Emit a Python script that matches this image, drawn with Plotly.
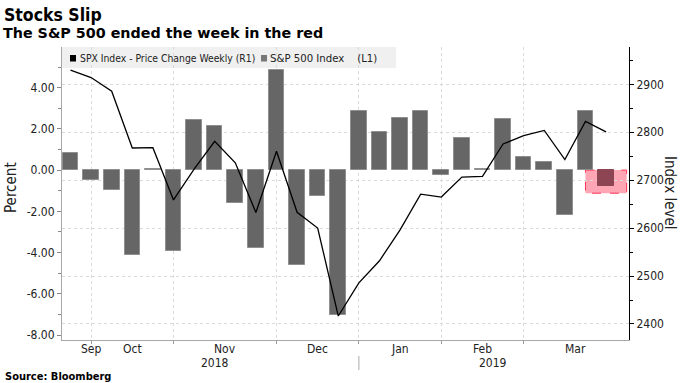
import plotly.graph_objects as go

# ---------------- data ----------------
weeks = [
    "2018-09-21", "2018-09-28", "2018-10-05", "2018-10-12", "2018-10-19", "2018-10-26",
    "2018-11-02", "2018-11-09", "2018-11-16", "2018-11-23", "2018-11-30", "2018-12-07",
    "2018-12-14", "2018-12-21", "2018-12-28", "2019-01-04", "2019-01-11", "2019-01-18",
    "2019-01-25", "2019-02-01", "2019-02-08", "2019-02-15", "2019-02-22", "2019-03-01",
    "2019-03-08", "2019-03-15", "2019-03-22",
]
weekly_change_pct = [
    0.85, -0.50, -0.95, -4.10, 0.03, -3.94,
    2.42, 2.13, -1.61, -3.79, 4.85, -4.60,
    -1.26, -7.05, 2.86, 1.87, 2.54, 2.87,
    -0.22, 1.57, 0.05, 2.50, 0.62, 0.39,
    -2.16, 2.89, -0.77,
]
index_level = [
    2929.7, 2914.0, 2885.6, 2767.1, 2767.8, 2658.7,
    2723.1, 2781.0, 2736.3, 2632.6, 2760.2, 2633.1,
    2600.0, 2416.6, 2485.7, 2531.9, 2596.3, 2670.7,
    2664.8, 2706.5, 2707.9, 2775.6, 2792.7, 2803.7,
    2743.1, 2822.5, 2800.7,
]
grid_dates = ["2018-09-28", "2018-10-26", "2018-11-30", "2018-12-28", "2019-01-25", "2019-02-22"]
month_labels = ["Sep", "Oct", "Nov", "Dec", "Jan", "Feb", "Mar"]
month_label_dates = ["2018-09-28", "2018-10-12", "2018-11-12 12:00", "2018-12-14",
                     "2019-01-11", "2019-02-08", "2019-03-11 12:00"]
year_labels = ["2018", "2019"]
year_label_dates = ["2018-11-09", "2019-02-11 12:00"]
year_break = "2018-12-28"
pct_ticks = [-8, -6, -4, -2, 0, 2, 4]
index_ticks = [2400, 2500, 2600, 2700, 2800, 2900]
highlight_week = "2019-03-22"
highlight_span = ("2019-03-15", "2019-03-29")

# ---------------- layout constants ----------------
W, H = 680, 383
ML, MR, MT, MB = 62, 51, 47, 43
PW, PH = W - ML - MR, H - MT - MB


def px(x):
    return (x - ML) / PW


def py(y):
    return (H - MB - y) / PH


FONT = "DejaVu Sans Condensed, DejaVu Sans, sans-serif"
BOLD = "DejaVu Sans, sans-serif"
GRAY = "#666666"

bar_colors = ["#8e4553" if w == highlight_week else GRAY for w in weeks]
bar_lines = ["#8e4553" if w == highlight_week else "#8f8f8f" for w in weeks]

fig = go.Figure()
fig.add_trace(go.Bar(
    x=weeks, y=weekly_change_pct, yaxis="y",
    marker=dict(color=bar_colors, line=dict(color=bar_lines, width=1)),
    width=5.3 * 24 * 3600 * 1000, showlegend=False,
))
fig.add_trace(go.Scatter(
    x=weeks, y=index_level, yaxis="y2", mode="lines",
    line=dict(color="#000000", width=1.3), showlegend=False,
))

shapes = [
    dict(type="rect", xref="x", yref="y", x0=highlight_span[0], x1=highlight_span[1],
         y0=0, y1=-1.12, fillcolor="#ffa6b4", line=dict(color="#ff3358", width=1, dash="dash"),
         layer="below"),
    dict(type="rect", xref="paper", yref="paper", x0=0, x1=px(396), y0=py(68), y1=1,
         fillcolor="#f0f0f0", line=dict(width=0), layer="below"),
    dict(type="rect", xref="paper", yref="paper", x0=px(70), x1=px(76), y0=py(61.5), y1=py(55),
         fillcolor="#000000", line=dict(width=0)),
    dict(type="rect", xref="paper", yref="paper", x0=px(261), x1=px(267), y0=py(61.5), y1=py(55),
         fillcolor="#777777", line=dict(width=0)),
    dict(type="line", xref="x", yref="paper", x0=year_break, x1=year_break,
         y0=py(356), y1=py(370), line=dict(color="#aaaaaa", width=1)),
]

ann = []
ann.append(dict(text="<b>Stocks Slip</b>", xref="paper", yref="paper", x=px(2), y=py(15),
                xanchor="left", yanchor="middle", showarrow=False,
                font=dict(family=FONT, size=17.5, color="#000")))
ann.append(dict(text="<b>The S&amp;P 500 ended the week in the red</b>", xref="paper", yref="paper",
                x=px(1), y=py(32.5), xanchor="left", yanchor="middle", showarrow=False,
                font=dict(family=BOLD, size=14.3, color="#000")))
ann.append(dict(text="<b>Source: Bloomberg</b>", xref="paper", yref="paper", x=px(3), y=py(377),
                xanchor="left", yanchor="middle", showarrow=False,
                font=dict(family=FONT, size=11, color="#000")))
ann.append(dict(text="SPX Index - Price Change Weekly (R1)", xref="paper", yref="paper",
                x=px(78), y=py(58), xanchor="left", yanchor="middle", showarrow=False,
                font=dict(family=FONT, size=10.3, color="#222")))
ann.append(dict(text="S&amp;P 500 Index&nbsp;&nbsp;&nbsp;&nbsp;(L1)", xref="paper", yref="paper",
                x=px(268), y=py(58), xanchor="left", yanchor="middle", showarrow=False,
                font=dict(family=FONT, size=11.3, color="#222")))
ann.append(dict(text="Percent", xref="paper", yref="paper", x=px(11), y=py(188),
                xanchor="center", yanchor="middle", textangle=-90, showarrow=False,
                font=dict(family=FONT, size=15, color="#222")))
ann.append(dict(text="Index level", xref="paper", yref="paper", x=px(670), y=py(193),
                xanchor="center", yanchor="middle", textangle=90, showarrow=False,
                font=dict(family=FONT, size=15, color="#222")))
for lab, d in zip(month_labels, month_label_dates):
    ann.append(dict(text=lab, xref="x", yref="paper", x=d, y=py(349),
                    xanchor="center", yanchor="middle", showarrow=False,
                    font=dict(family=FONT, size=12, color="#222")))
for lab, d in zip(year_labels, year_label_dates):
    ann.append(dict(text=lab, xref="x", yref="paper", x=d, y=py(363),
                    xanchor="center", yanchor="middle", showarrow=False,
                    font=dict(family=FONT, size=12, color="#222")))

fig.update_layout(
    width=W, height=H,
    margin=dict(l=ML, r=MR, t=MT, b=MB, pad=0),
    paper_bgcolor="#ffffff", plot_bgcolor="#ffffff",
    font=dict(family=FONT, size=12, color="#222"),
    showlegend=False, bargap=0,
    shapes=shapes, annotations=ann,
    xaxis=dict(
        type="date", range=["2018-09-18 02:40", "2019-03-29 19:00"],
        tickvals=grid_dates, ticktext=[""] * len(grid_dates),
        ticks="outside", ticklen=3, tickcolor="#999999",
        showline=True, linecolor="#a8a8a8", linewidth=1,
        showgrid=True, gridcolor="#dadada", griddash="dot", gridwidth=1,
        zeroline=False, fixedrange=True,
    ),
    yaxis=dict(
        range=[-8.24, 5.97], tickvals=pct_ticks,
        ticktext=[f"{v:.2f}" for v in pct_ticks],
        ticks="outside", ticklen=4, tickcolor="#888888",
        minor=dict(dtick=1, ticks="outside", ticklen=3, tickcolor="#888888", showgrid=False),
        showline=True, linecolor="#a8a8a8", linewidth=1,
        showgrid=False, zeroline=False,
        tickfont=dict(family=FONT, size=12, color="#222"),
    ),
    yaxis2=dict(
        overlaying="y", side="right", anchor="x",
        range=[2366.6, 2977.8], tickvals=index_ticks,
        ticks="outside", ticklen=4, tickcolor="#000000",
        minor=dict(dtick=50, ticks="outside", ticklen=3, tickcolor="#000000", showgrid=False),
        showline=True, linecolor="#000000", linewidth=1,
        showgrid=True, gridcolor="#dadada", griddash="dot", gridwidth=1,
        zeroline=False,
        tickfont=dict(family=FONT, size=12, color="#222"),
    ),
)

fig.write_html(
    "out.html",
    config=dict(displayModeBar=False),
    post_script="document.body.style.margin='0';document.body.style.padding='0';",
)
